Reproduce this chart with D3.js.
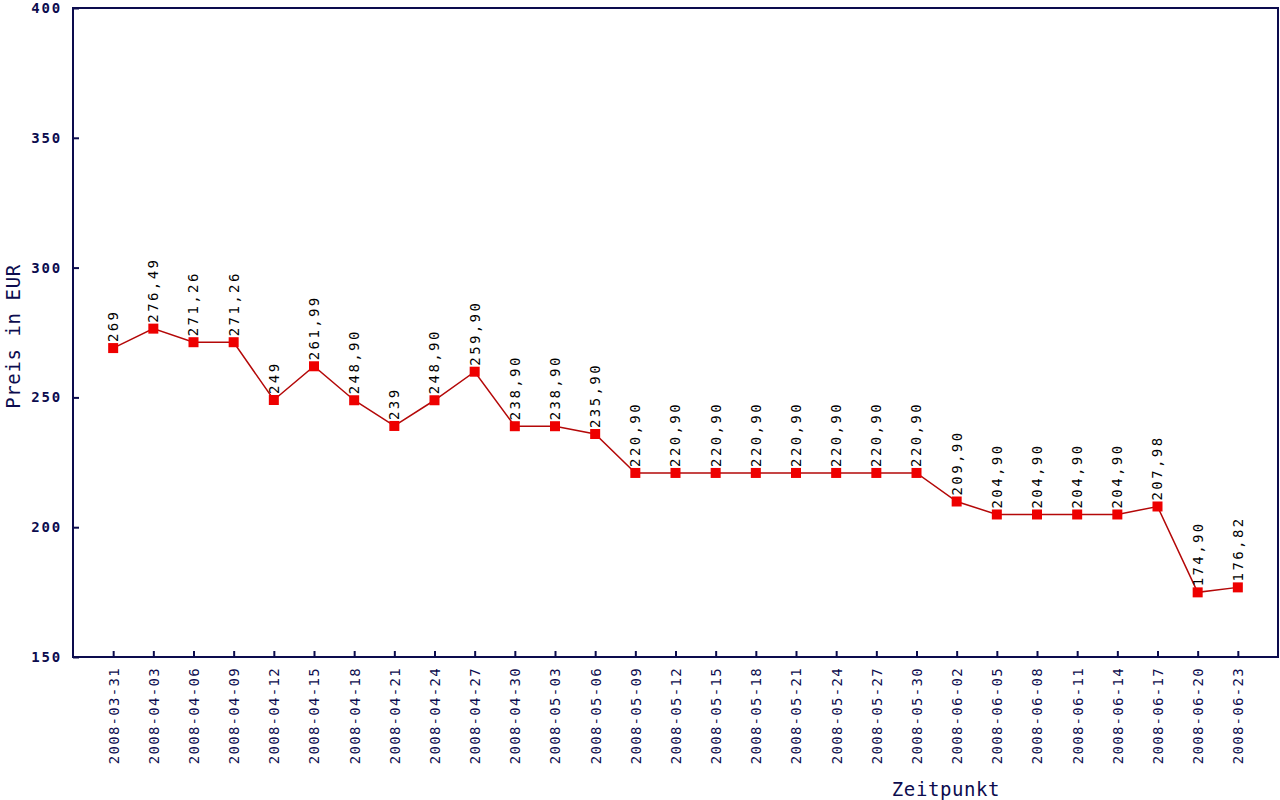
<!DOCTYPE html>
<html>
<head>
  <meta charset="utf-8">
  <title>Preis in EUR</title>
  <script src="https://d3js.org/d3.v7.min.js"></script>
  <style>
    body { margin: 0; background: #fff; }
    text { font-family: "DejaVu Sans Mono", monospace; }
  </style>
</head>
<body>
<div id="chart-container"></div>
<script>

var dates = ["2008-03-31", "2008-04-03", "2008-04-06", "2008-04-09", "2008-04-12", "2008-04-15",
  "2008-04-18", "2008-04-21", "2008-04-24", "2008-04-27", "2008-04-30", "2008-05-03",
  "2008-05-06", "2008-05-09", "2008-05-12", "2008-05-15", "2008-05-18", "2008-05-21",
  "2008-05-24", "2008-05-27", "2008-05-30", "2008-06-02", "2008-06-05", "2008-06-08",
  "2008-06-11", "2008-06-14", "2008-06-17", "2008-06-20", "2008-06-23"];

var prices = [269, 276.49, 271.26, 271.26, 249, 261.99, 248.90, 239, 248.90, 259.90,
  238.90, 238.90, 235.90, 220.90, 220.90, 220.90, 220.90, 220.90, 220.90, 220.90,
  220.90, 209.90, 204.90, 204.90, 204.90, 204.90, 207.98, 174.90, 176.82];

var priceLabels = ["269", "276,49", "271,26", "271,26", "249", "261,99", "248,90", "239",
  "248,90", "259,90", "238,90", "238,90", "235,90", "220,90", "220,90", "220,90", "220,90",
  "220,90", "220,90", "220,90", "220,90", "209,90", "204,90", "204,90", "204,90", "204,90",
  "207,98", "174,90", "176,82"];

var yTicks = [150, 200, 250, 300, 350, 400];

var navy = "#0c0c4e";
var margin = { top: 8, right: 2, bottom: 143, left: 73 };
var width = 1280 - margin.left - margin.right;
var height = 800 - margin.top - margin.bottom;

var data = dates.map((d, i) => ({ date: d, price: prices[i], label: priceLabels[i] }));

var svg = d3.select("#chart-container")
  .append("svg")
  .attr("width", 1280)
  .attr("height", 800)
  .append("g")
  .attr("transform", "translate(" + margin.left + "," + margin.top + ")");

var x = d3.scalePoint()
  .domain(dates)
  .range([0, width])
  .padding(1);

var y = d3.scaleLinear()
  .domain([150, 400])
  .range([height, 0]);

// y axis, ticks point into the plot
var yAxis = svg.append("g")
  .call(d3.axisRight(y).tickValues(yTicks).tickSize(6).tickFormat(d3.format("d")));
yAxis.select(".domain").remove();
yAxis.selectAll("line").attr("stroke", navy).attr("stroke-width", 2);
yAxis.selectAll("text")
  .attr("x", -11)
  .attr("text-anchor", "end")
  .attr("fill", navy)
  .style("font-size", "14px")
  .style("font-weight", "bold")
  .style("letter-spacing", "1.8px");

// x axis
var xAxis = svg.append("g")
  .attr("transform", "translate(0," + height + ")")
  .call(d3.axisTop(x).tickSize(6));
xAxis.select(".domain").remove();
xAxis.selectAll("line").attr("stroke", navy).attr("stroke-width", 2);
xAxis.selectAll("text")
  .attr("transform", "rotate(-90)")
  .attr("x", -10)
  .attr("y", 0)
  .attr("dy", "0.35em")
  .attr("text-anchor", "end")
  .attr("fill", navy)
  .style("font-size", "14px")
  .style("letter-spacing", "1.3px");

// frame
svg.append("rect")
  .attr("x", 0)
  .attr("y", 0)
  .attr("width", width)
  .attr("height", height)
  .attr("fill", "none")
  .attr("stroke", navy)
  .attr("stroke-width", 2);

// axis titles
svg.append("text")
  .attr("transform", "translate(" + (20 - margin.left) + "," + (height / 2 + 4) + ") rotate(-90)")
  .attr("text-anchor", "middle")
  .attr("fill", navy)
  .style("font-size", "19px")
  .style("letter-spacing", "0.6px")
  .text("Preis in EUR");

svg.append("text")
  .attr("x", 946 - margin.left)
  .attr("y", 796 - margin.top)
  .attr("text-anchor", "middle")
  .attr("fill", navy)
  .style("font-size", "19px")
  .style("letter-spacing", "0.6px")
  .text("Zeitpunkt");

// line
var line = d3.line()
  .x(d => x(d.date))
  .y(d => y(d.price));

svg.append("path")
  .datum(data)
  .attr("fill", "none")
  .attr("stroke", "#b40808")
  .attr("stroke-width", 1.5)
  .attr("d", line);

// markers
svg.selectAll(".marker")
  .data(data)
  .enter().append("rect")
  .attr("class", "marker")
  .attr("x", d => x(d.date) - 5)
  .attr("y", d => y(d.price) - 5)
  .attr("width", 10)
  .attr("height", 10)
  .attr("fill", "#ee0000");

// value labels
svg.selectAll(".value")
  .data(data)
  .enter().append("text")
  .attr("class", "value")
  .attr("transform", d => "translate(" + x(d.date) + "," + (y(d.price) - 6) + ") rotate(-90)")
  .attr("dy", "0.35em")
  .attr("text-anchor", "start")
  .attr("fill", "#000")
  .style("font-size", "14px")
  .style("letter-spacing", "2.4px")
  .text(d => d.label);

</script>
</body>
</html>
